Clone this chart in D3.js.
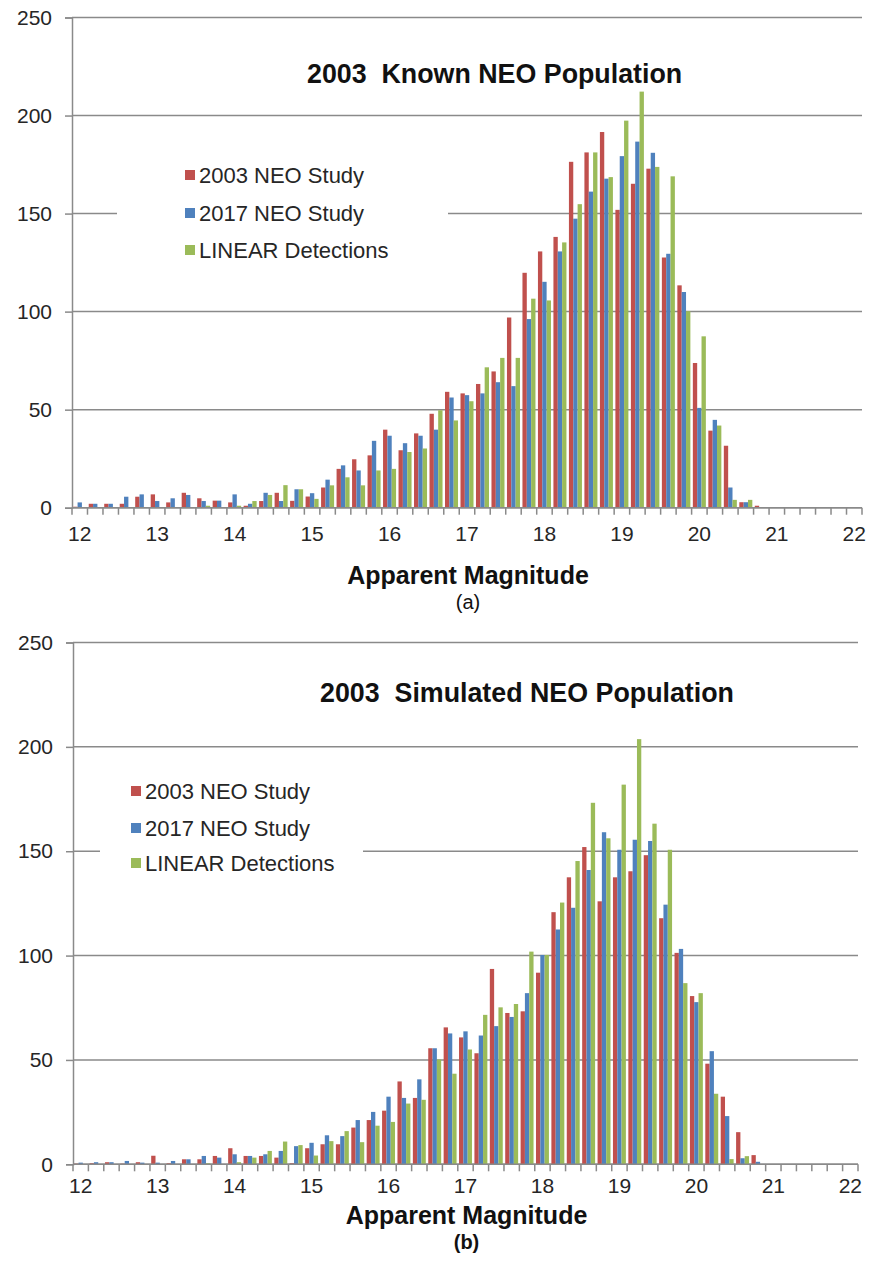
<!DOCTYPE html>
<html><head><meta charset="utf-8">
<script src="https://cdn.jsdelivr.net/npm/d3@7"></script>
<style>
body{margin:0;background:#fff;}
svg{display:block;font-family:"Liberation Sans",Arial,sans-serif;}
</style>
</head><body>
<svg id="c" width="869" height="1262"></svg>
<script>
// ---------- data ----------
const magnitudes = d3.range(51).map(i => (12 + i * 0.2).toFixed(1));
const xTickLabels = ["12.0","13.0","14.0","15.0","16.0","17.0","18.0","19.0","20.0","21.0","22.0"];
const yTickValues = [0, 50, 100, 150, 200, 250];
const seriesNames = ["2003 NEO Study", "2017 NEO Study", "LINEAR Detections"];
const seriesColors = ["#C0504D", "#4F81BD", "#9BBB59"];

const knownStudy2003 = [0.5,2,2,2,5.6,6.8,2.7,7.6,4.8,3.6, 2.7,1,3.4,7.6,3.5,5.7,10.3,19.8,24.7,26.7,
  39.8,29.3,37.9,47.9,59.1,58.3,63.1,69.5,97,119.8, 130.7,138.1,176.4,181.2,191.6,151.9,165.2,172.9,127.6,113.4,
  73.8,39.3,31.6,2.8,1,0,0,0,0,0, 0];
const knownStudy2017 = [2.7,2,2,5.6,6.8,3.4,4.8,6.5,3.4,3.6, 6.8,2,7.6,3.4,9.4,7.4,14.3,21.6,19,34.1,
  36.7,32.9,36.7,39.8,56.2,57.4,58.3,64,62,96.2, 115.2,130.7,147.4,161.2,167.8,179.3,186.7,181,129.5,110,
  50.9,44.8,10.3,2.8,0.3,0,0,0,0,0, 0];
const knownLinear = [0,0,0,0,0,0,0,0,1,0, 1,3.4,6.5,11.5,9.4,4.5,11.4,15.5,11.4,19,
  19.8,28.4,30.2,49.7,44.5,54.3,71.6,76.4,76.4,106.6, 105.7,135.3,154.8,181.2,168.6,197.4,212.2,173.8,169,100.2,
  87.4,41.9,4,4,0,0,0,0,0,0, 0];

const simStudy2003 = [0.3,0.5,1,0.3,1,4.1,0.5,2.4,2.4,4, 7.7,4,4,3.2,0.5,7.7,9.6,9.6,17.6,21.2,
  25.7,39.7,31.8,55.6,65.6,60.8,53.2,93.6,72.5,73.3, 91.8,120.8,137.5,152,126,137.5,140.4,148.1,117.9,101.3,
  80.6,48.2,32.4,15.4,4.4,0,0,0,0,0, 0];
const simStudy2017 = [0.8,1,1,1.6,0.8,0.8,1.6,2.4,4,3.2, 4.8,4,4.8,6.4,8.7,10.3,13.9,13.5,21.2,25.1,
  32.4,31.8,40.7,55.6,62.7,63.7,61.7,66.2,70.6,82, 100.3,112.5,122.9,141,159.1,150.7,155.5,154.9,124.4,103.2,
  77.7,54.2,23.1,2.9,1.2,0,0,0,0,0, 0];
const simLinear = [0,0,0,0,0,0,0,0,0.5,0, 1,3.2,6.4,10.9,9.2,4.2,11.1,15.9,10.6,18.5,
  20.3,29.1,30.9,50.2,43.4,55,71.6,75.2,76.8,101.9, 100.3,125.4,145.3,173.2,156.2,181.9,203.7,163.2,150.7,86.8,
  82,33.8,2.5,3.9,0,0,0,0,0,0, 0];

const titles = ["2003  Known NEO Population", "2003  Simulated NEO Population"];
const xAxisTitle = "Apparent Magnitude";
const subLabels = ["(a)", "(b)"];

// ---------- layout (positions/styles only) ----------
const panels = [
  { series: [knownStudy2003, knownStudy2017, knownLinear], title: titles[0], sub: subLabels[0], subBold: false,
    left: 72, right: 862, y0: 507.7, yTop: 17.5,
    titleX: 307, titleY: 83,
    legX: 185, legY: [175, 213, 250], legBg: [117, 157, 331, 110],
    xLabY: 541, axTitleY: 584, subY: 609 },
  { series: [simStudy2003, simStudy2017, simLinear], title: titles[1], sub: subLabels[1], subBold: true,
    left: 73, right: 858, y0: 1164.3, yTop: 642.5,
    titleX: 320, titleY: 702,
    legX: 131, legY: [791, 828, 863], legBg: [100, 772, 263, 108],
    xLabY: 1193, axTitleY: 1224, subY: 1249 }
];
const gridColor = "#8a8a8a";
const textColor = "#262626";

const svg = d3.select("#c");

panels.forEach((p, pi) => {
  const g = svg.append("g");
  const x = d3.scaleBand().domain(magnitudes).range([p.left, p.right]).padding(0);
  const xs = d3.scaleBand().domain(seriesNames).range([x.bandwidth() * 0.08, x.bandwidth() * 0.92]).padding(0);
  const y = d3.scaleLinear().domain([0, 250]).range([p.y0, p.yTop]);

  // gridlines
  g.append("g").selectAll("line").data(yTickValues).join("line")
    .attr("x1", p.left).attr("x2", p.right)
    .attr("y1", d => y(d)).attr("y2", d => y(d))
    .attr("stroke", gridColor).attr("stroke-width", 1.5);

  // y axis
  const yAxis = g.append("g").attr("transform", `translate(${p.left},0)`)
    .call(d3.axisLeft(y).tickValues(yTickValues).tickSize(7).tickPadding(13));
  yAxis.select(".domain").attr("stroke", gridColor).attr("stroke-width", 1.5);
  yAxis.selectAll(".tick line").attr("stroke", gridColor).attr("stroke-width", 1.5);
  yAxis.selectAll(".tick text").attr("font-size", 21).attr("fill", textColor)
    .attr("font-family", "Liberation Sans, Arial, sans-serif");

  // bars
  const cats = g.append("g").selectAll("g").data(magnitudes).join("g")
    .attr("transform", d => `translate(${x(d)},0)`);
  cats.selectAll("rect").data((d, i) => seriesNames.map((s, si) => ({ s, v: p.series[si][i], c: seriesColors[si] })))
    .join("rect")
    .attr("x", d => xs(d.s)).attr("width", xs.bandwidth())
    .attr("y", d => y(d.v)).attr("height", d => y(0) - y(d.v))
    .attr("fill", d => d.c);

  // x axis line and tick marks at category boundaries
  g.append("line").attr("x1", p.left).attr("x2", p.right).attr("y1", y(0)).attr("y2", y(0))
    .attr("stroke", gridColor).attr("stroke-width", 1.5);
  const bounds = magnitudes.map(m => x(m)).concat([p.right]);
  g.append("g").selectAll("line").data(bounds).join("line")
    .attr("x1", d => d).attr("x2", d => d).attr("y1", y(0)).attr("y2", y(0) + 7)
    .attr("stroke", gridColor).attr("stroke-width", 1.5);

  // x labels
  const xAxis = g.append("g").attr("transform", `translate(0,${p.xLabY})`)
    .call(d3.axisBottom(x).tickValues(xTickLabels).tickSize(0).tickPadding(0)
      .tickFormat(d => String(Math.round(+d))));
  xAxis.select(".domain").remove();
  xAxis.selectAll(".tick text").attr("font-size", 21).attr("fill", textColor)
    .attr("dy", null).attr("y", 0)
    .attr("font-family", "Liberation Sans, Arial, sans-serif");

  // legend background + entries
  g.append("rect").attr("x", p.legBg[0]).attr("y", p.legBg[1]).attr("width", p.legBg[2]).attr("height", p.legBg[3])
    .attr("fill", "#fff");
  const leg = g.append("g").selectAll("g").data(seriesNames).join("g")
    .attr("transform", (d, i) => `translate(${p.legX},${p.legY[i]})`);
  leg.append("rect").attr("x", 0).attr("y", -5).attr("width", 10).attr("height", 10)
    .attr("fill", (d, i) => seriesColors[i]);
  leg.append("text").attr("x", 14).attr("y", 7.5).attr("font-size", 22).attr("fill", textColor)
    .text(d => d);

  // title
  g.append("text").attr("x", p.titleX).attr("y", p.titleY).attr("font-size", 26.8).attr("font-weight", "bold")
    .attr("fill", "#111").style("white-space", "pre").text(p.title);

  // axis title & sub label
  const cx = (p.left + p.right) / 2 + 1;
  g.append("text").attr("x", cx).attr("y", p.axTitleY).attr("text-anchor", "middle")
    .attr("font-size", 25).attr("font-weight", "bold").attr("fill", "#111").text(xAxisTitle);
  g.append("text").attr("x", cx).attr("y", p.subY).attr("text-anchor", "middle")
    .attr("font-size", 20).attr("font-weight", p.subBold ? "bold" : "normal").attr("fill", "#111").text(p.sub);
});
</script>
</body></html>
